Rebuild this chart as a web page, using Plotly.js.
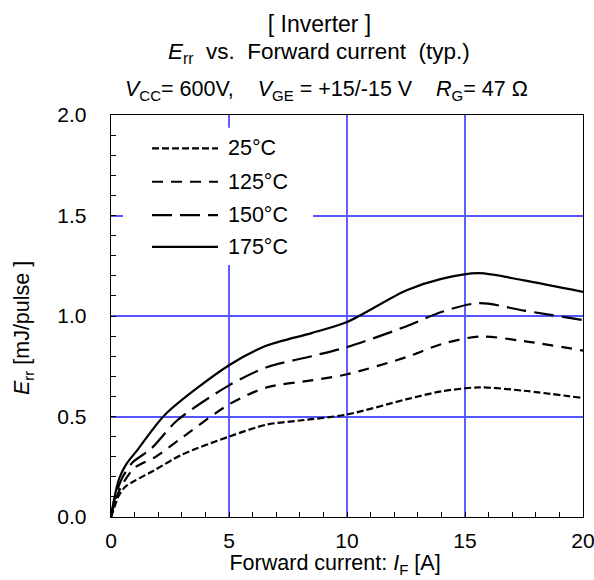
<!DOCTYPE html>
<html>
<head>
<meta charset="utf-8">
<script src="https://cdn.plot.ly/plotly-3.0.1.min.js"></script>
<style>html,body{margin:0;padding:0;background:#fff;}#chart{width:594px;height:580px;}</style>
</head>
<body>
<div id="chart"></div>
<script>
// ---- data ----
const seriesNames = ['25°C', '125°C', '150°C', '175°C'];

const x25  = [0, 0.15, 0.3, 0.6, 1.0, 1.8, 3.0, 5.0, 6.6, 8.0, 10.0, 12.5, 14.0, 15.6, 17.5, 20];
const y25  = [0, 0.05, 0.10, 0.15, 0.18, 0.23, 0.31, 0.40, 0.46, 0.48, 0.51, 0.585, 0.625, 0.645, 0.628, 0.592];

const x125 = [0, 0.2, 0.5, 1.0, 1.9, 2.9, 5.0, 6.6, 8.5, 10.0, 12.5, 14.0, 15.6, 17.5, 20];
const y125 = [0, 0.09, 0.165, 0.245, 0.30, 0.385, 0.56, 0.645, 0.68, 0.71, 0.795, 0.86, 0.898, 0.875, 0.828];

const x150 = [0, 0.2, 0.5, 0.9, 1.7, 2.8, 5.0, 6.6, 8.5, 10.0, 12.5, 14.0, 15.6, 17.5, 20];
const y150 = [0, 0.11, 0.20, 0.27, 0.34, 0.48, 0.655, 0.745, 0.80, 0.845, 0.948, 1.02, 1.064, 1.027, 0.98];

const x175 = [0, 0.15, 0.36, 0.65, 1.15, 2.3, 5.0, 6.6, 8.5, 10.0, 12.5, 14.0, 15.6, 17.5, 20];
const y175 = [0, 0.10, 0.196, 0.263, 0.338, 0.51, 0.755, 0.853, 0.915, 0.97, 1.127, 1.185, 1.213, 1.177, 1.12];

const xRange = [0, 20];
const yRange = [0, 2];

// ---- styles ----
const FONT = '"Liberation Sans", Arial, Helvetica, sans-serif';
const dashes = ['7px,3px', '11px,8px', '20px,8px', 'solid'];
const LW = 2.2;

const xs = [x25, x125, x150, x175];
const ys = [y25, y125, y150, y175];

const traces = seriesNames.map((n, i) => ({
  type: 'scatter', mode: 'lines', name: n,
  x: xs[i], y: ys[i],
  line: {color: '#000', width: LW, dash: dashes[i], shape: 'spline', smoothing: 0.8},
  showlegend: false, hoverinfo: 'skip'
}));

// custom legend (paper coordinates), drawn like the reference
const legRowsY = [0.917, 0.834, 0.751, 0.672];
const shapes = [{
  type: 'rect', xref: 'paper', yref: 'paper', x0: 0.0254, x1: 0.428, y0: 0.627, y1: 0.968,
  fillcolor: '#fff', line: {width: 0}, layer: 'above'
}];
const annotations = [];
seriesNames.forEach((n, i) => {
  shapes.push({type: 'line', xref: 'paper', yref: 'paper', x0: 0.0869, x1: 0.2267,
    y0: legRowsY[i], y1: legRowsY[i], line: {color: '#000', width: LW, dash: dashes[i]}, layer: 'above'});
  annotations.push({xref: 'paper', yref: 'paper', x: 0.243, y: legRowsY[i], xanchor: 'left', yanchor: 'middle',
    text: n, showarrow: false, font: {family: FONT, size: 21.5, color: '#000'}});
});

annotations.push({xref: 'paper', yref: 'paper', x: 0.4407, y: 1.155, xanchor: 'center', yanchor: 'middle',
  showarrow: false, font: {family: FONT, size: 22.5, color: '#000'},
  text: '<i>E</i><sub>rr</sub>&nbsp; vs.&nbsp; Forward current&nbsp; (typ.)'});
annotations.push({xref: 'paper', yref: 'paper', x: 0.457, y: 1.062, xanchor: 'center', yanchor: 'middle',
  showarrow: false, font: {family: FONT, size: 21.5, color: '#000'},
  text: '<i>V</i><sub>CC</sub>= 600V,&nbsp;&nbsp;&nbsp; <i>V</i><sub>GE</sub> = +15/-15 V&nbsp;&nbsp;&nbsp; <i>R</i><sub>G</sub>= 47 Ω'});

const layout = {
  width: 594, height: 580,
  margin: {l: 111, r: 11, t: 115, b: 63, pad: 0},
  paper_bgcolor: '#fff', plot_bgcolor: '#fff',
  font: {family: FONT, size: 21, color: '#000'},
  title: {text: '[ Inverter ]', xref: 'container', yref: 'container', x: 319.5 / 594, xanchor: 'center',
    y: 1 - 24 / 580, yanchor: 'middle', font: {family: FONT, size: 23, color: '#000'}},
  xaxis: {
    range: xRange, tick0: 0, dtick: 5,
    showgrid: true, gridcolor: 'rgb(95,95,255)', gridwidth: 2, zeroline: false,
    showline: true, linecolor: '#000', linewidth: 1.3, mirror: true,
    ticks: 'inside', ticklen: 5, tickcolor: '#000', tickwidth: 1,
    minor: {dtick: 1, ticks: 'inside', ticklen: 5, tickcolor: '#000', tickwidth: 1, showgrid: false},
    tickfont: {family: FONT, size: 21, color: '#000'}, ticklabelstandoff: 4, ticklabeloverflow: 'allow',
    title: {text: 'Forward current: <i>I</i><sub>F</sub> [A]&nbsp;&nbsp;&nbsp;&nbsp;', standoff: 0,
      font: {family: FONT, size: 21.5, color: '#000'}}
  },
  yaxis: {
    range: yRange, tick0: 0, dtick: 0.5, tickformat: '.1f',
    showgrid: true, gridcolor: 'rgb(85,85,255)', gridwidth: 2, zeroline: false,
    showline: true, linecolor: '#000', linewidth: 1.3, mirror: true,
    ticks: 'inside', ticklen: 5, tickcolor: '#000', tickwidth: 1,
    minor: {dtick: 0.1, ticks: 'inside', ticklen: 5, tickcolor: '#000', tickwidth: 1, showgrid: false},
    tickfont: {family: FONT, size: 21, color: '#000'}, ticklabelstandoff: 19, ticklabeloverflow: 'allow',
    title: {text: '<i>E</i><sub>rr</sub> [mJ/pulse ]&nbsp;&nbsp;&nbsp;&nbsp;', standoff: 21,
      font: {family: FONT, size: 21.5, color: '#000'}}
  },
  shapes: shapes,
  annotations: annotations
};

Plotly.newPlot('chart', traces, layout, {staticPlot: true, displayModeBar: false});
</script>
</body>
</html>
